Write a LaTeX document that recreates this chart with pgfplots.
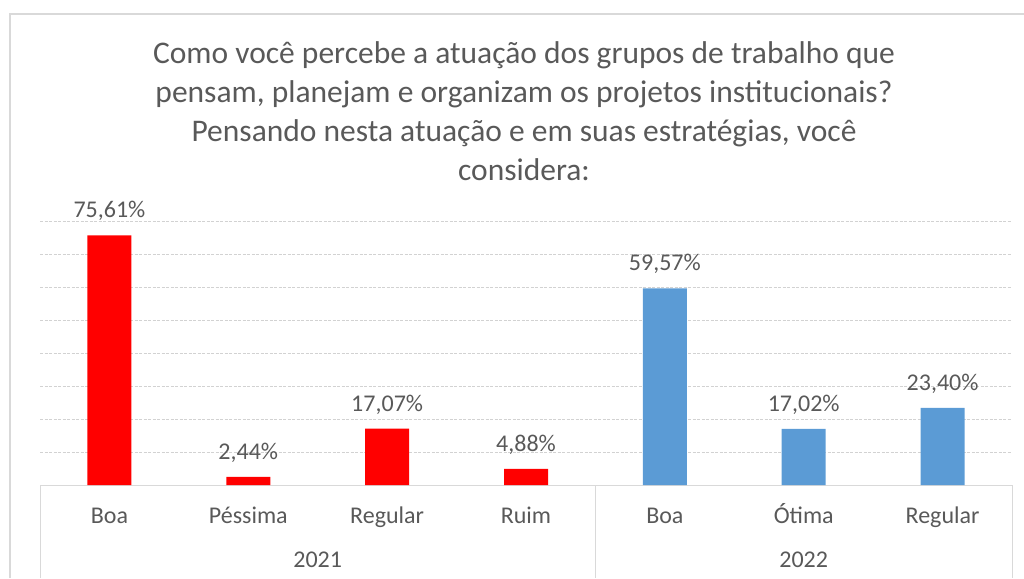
\documentclass[border=0pt]{standalone}
\usepackage{pgfplots}
\pgfplotsset{compat=1.18}
\usepackage{fontspec}
\setmainfont{Carlito}
\definecolor{txt}{RGB}{89,89,89}
\definecolor{gridc}{RGB}{210,210,210}
\definecolor{sepc}{RGB}{217,217,217}
\definecolor{barblue}{RGB}{91,155,213}
\begin{document}
\begin{tikzpicture}[x=1pt,y=1pt]
\path[use as bounding box] (0,0) rectangle (1024,578);
\draw[sepc,line width=1.5pt] (10,0) -- (10,564) -- (1024,564);
\node[txt,align=center,font=\fontsize{31.5}{39}\selectfont] at (524,467)
 {Como você percebe a atuação dos grupos de trabalho que\\pensam, planejam e organizam os projetos institucionais?\\Pensando nesta atuação e em suas estratégias, você\\considera:};
\begin{axis}[
  at={(40pt,93pt)}, anchor=south west,
  scale only axis, width=972pt, height=264pt,
  xmin=-0.5, xmax=6.5, ymin=0, ymax=80,
  ytick={0,10,...,80}, yticklabels={},
  ymajorgrids, grid style={gridc, dash pattern=on 3pt off 1.5pt, line width=0.8pt},
  axis x line*=bottom, axis y line*=left,
  y axis line style={draw=none},
  x axis line style={sepc,line width=1pt,-},
  xtick={0,...,6}, xticklabels={Boa,Péssima,Regular,Ruim,Boa,Ótima,Regular},
  major tick length=0pt,
  xticklabel style={txt,font=\fontsize{24}{28}\selectfont, text height=16pt, text depth=5pt, yshift=-19pt},
  clip=false,
  /pgf/number format/assume math mode=true,
  nodes near coords={\pgfmathprintnumber[fixed,fixed zerofill,precision=2,use comma,assume math mode=true]{\pgfplotspointmeta}\%},
  nodes near coords style={txt,font=\fontsize{24}{28}\selectfont, yshift=11pt},
]
\addplot[ybar, bar width=44pt, bar shift=0pt, fill=red, draw=none] coordinates {(0,75.61) (1,2.44) (2,17.07) (3,4.88)};
\addplot[ybar, bar width=44pt, bar shift=0pt, fill=barblue, draw=none] coordinates {(4,59.57) (5,17.02) (6,23.40)};
\draw[sepc,line width=1pt] (axis cs:-0.5,0) -- ([yshift=-93pt]axis cs:-0.5,0);
\draw[sepc,line width=1pt] (axis cs:3.5,0) -- ([yshift=-93pt]axis cs:3.5,0);
\draw[sepc,line width=1pt] (axis cs:6.5,0) -- ([yshift=-93pt]axis cs:6.5,0);
\node[txt,font=\fontsize{24}{28}\selectfont] at ([yshift=-75pt]axis cs:1.5,0) {2021};
\node[txt,font=\fontsize{24}{28}\selectfont] at ([yshift=-75pt]axis cs:5,0) {2022};
\end{axis}
\end{tikzpicture}
\end{document}
